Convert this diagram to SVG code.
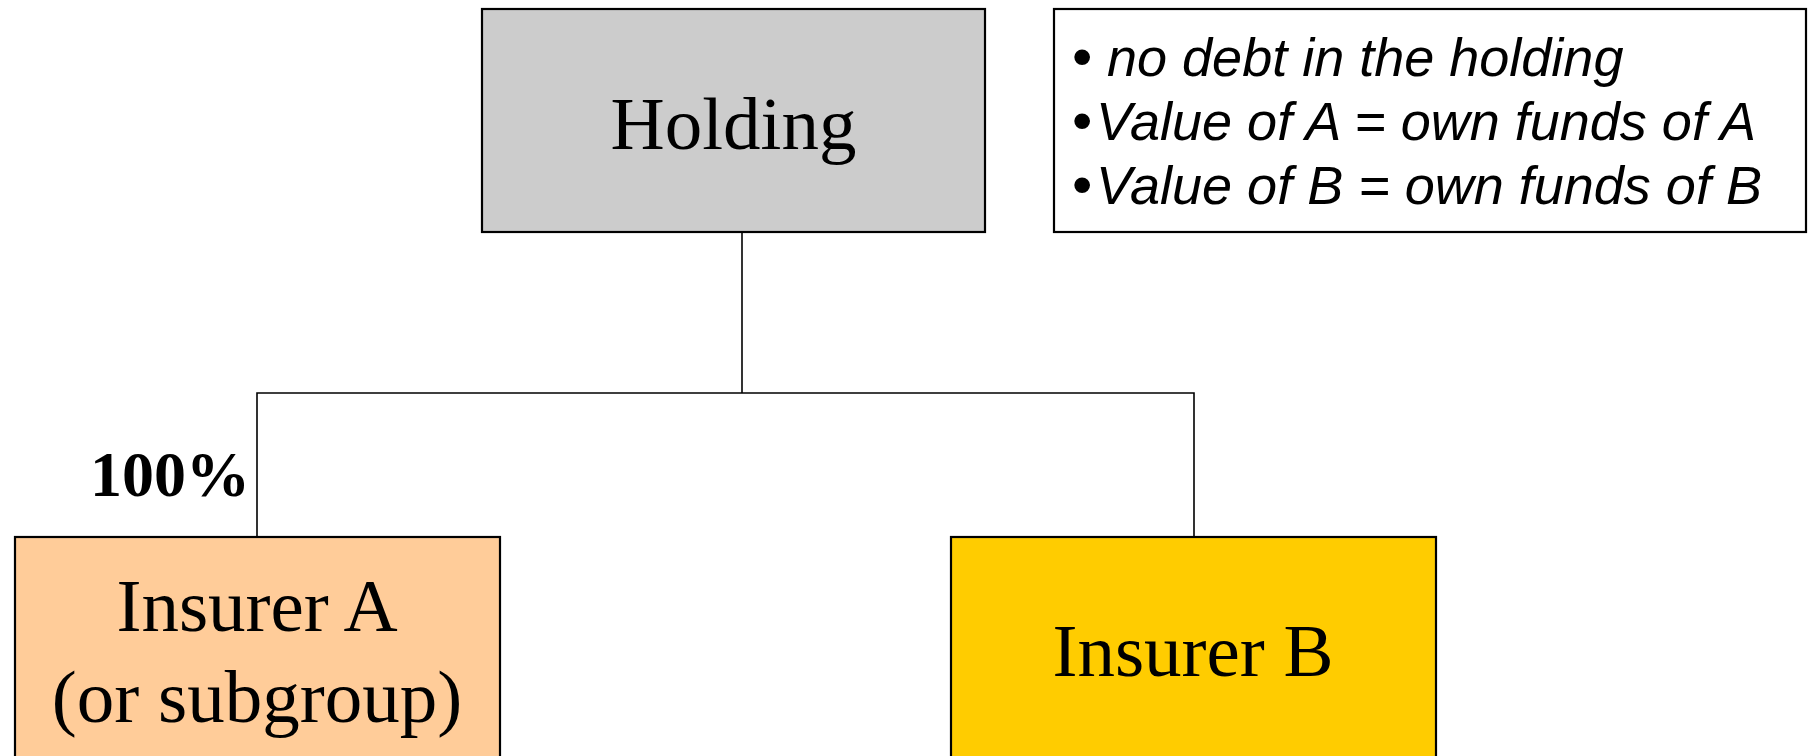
<svg xmlns="http://www.w3.org/2000/svg" width="1811" height="756" viewBox="0 0 1811 756">
<style>
.box{stroke:#000;stroke-width:2.2}
.lbl{font-family:"Liberation Serif","Times New Roman",serif;font-size:75px;fill:#000;text-anchor:middle}
.note{font-family:"Liberation Sans",Arial,sans-serif;font-size:54px;font-style:italic;fill:#000}
.conn{stroke:#000;stroke-width:1.6;fill:none}
</style>
<rect width="1811" height="756" fill="#fff"/>
<g id="connectors">
<path class="conn" d="M742 232 V393"/>
<path class="conn" d="M257 537 V393 H1194 V537"/>
</g>
<g id="holding">
<rect class="box" x="482" y="9" width="503" height="223" fill="#cccccc"/>
<text class="lbl" x="733.5" y="149">Holding</text>
</g>
<g id="note">
<rect class="box" x="1054" y="9" width="752" height="223" fill="#fff"/>
<text class="note" y="76"><tspan x="1072" font-style="normal" font-size="58">•</tspan><tspan x="1107">no debt in the holding</tspan></text>
<text class="note" y="140"><tspan x="1072" font-style="normal" font-size="58">•</tspan><tspan x="1096">Value of A = own funds of A</tspan></text>
<text class="note" y="204"><tspan x="1072" font-style="normal" font-size="58">•</tspan><tspan x="1096">Value of B = own funds of B</tspan></text>
</g>
<g id="insurerA">
<rect class="box" x="15" y="537" width="485" height="260" fill="#ffcc99"/>
<text class="lbl" x="257" y="631">Insurer A</text>
<text class="lbl" x="257" y="722">(or subgroup)</text>
</g>
<g id="insurerB">
<rect class="box" x="951" y="537" width="485" height="260" fill="#ffcc00"/>
<text class="lbl" x="1193" y="676">Insurer B</text>
</g>
<g id="label100">
<text x="250" y="496" text-anchor="end" style="font-family:'Liberation Serif','Times New Roman',serif;font-size:64px;font-weight:bold">100%</text>
</g>
</svg>
